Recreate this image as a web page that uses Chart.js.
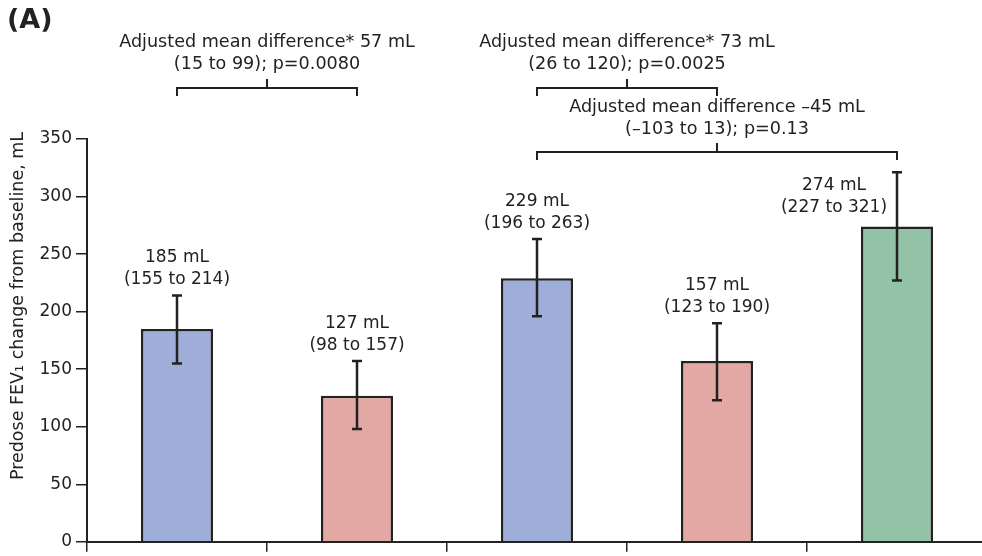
<!DOCTYPE html>
<html>
<head>
<meta charset="utf-8">
<script src="https://cdn.jsdelivr.net/npm/chart.js@4/dist/chart.umd.min.js"></script>
<style>
  html, body { margin: 0; padding: 0; background: #fff; overflow: hidden; }
  #wrap { position: relative; width: 990px; height: 556px; }
</style>
</head>
<body>
<div id="wrap"><canvas id="chart" width="990" height="556"></canvas></div>
<script>
// treatment groups (no printed axis labels in the figure)
const groups     = ['Group 1', 'Group 2', 'Group 3', 'Group 4', 'Group 5'];
const meanChange = [185, 127, 229, 157, 274];
const ciLow      = [155, 98, 196, 123, 227];
const ciHigh     = [214, 157, 263, 190, 321];
const yTicks     = [0, 50, 100, 150, 200, 250, 300, 350];

// pairwise comparisons drawn as brackets above the bars
const compFrom  = [0, 2, 2];
const compTo    = [1, 3, 4];
const compLine1 = ['Adjusted mean difference* 57 mL', 'Adjusted mean difference* 73 mL', 'Adjusted mean difference \u201345 mL'];
const compLine2 = ['(15 to 99); p=0.0080', '(26 to 120); p=0.0025', '(\u2013103 to 13); p=0.13'];

const FONT = '"DejaVu Sans", "Liberation Sans", Arial, sans-serif';
const INK = '#222';
const barFill = ['#9eaed8', '#e3a8a3', '#9eaed8', '#e3a8a3', '#93c2a6'];

const bracketY = [88, 88, 152];      // px, bracket bar height
const labelShift = { 4: { dx: -63, dy: 51 } }; // last label sits left of its error bar

const Annotate = {
  id: 'annotate',
  afterDatasetsDraw(chart) {
    const { ctx, scales: { y } } = chart;
    const meta = chart.getDatasetMeta(0);
    ctx.save();
    ctx.strokeStyle = INK;
    ctx.fillStyle = INK;

    // error bars
    ctx.lineWidth = 2.5;
    meta.data.forEach((bar, i) => {
      const cx = bar.x, top = y.getPixelForValue(ciHigh[i]), bot = y.getPixelForValue(ciLow[i]);
      ctx.beginPath();
      ctx.moveTo(cx, top); ctx.lineTo(cx, bot);
      ctx.moveTo(cx - 5, top); ctx.lineTo(cx + 5, top);
      ctx.moveTo(cx - 5, bot); ctx.lineTo(cx + 5, bot);
      ctx.stroke();
    });

    // value labels
    ctx.font = `17px ${FONT}`;
    ctx.textAlign = 'center';
    ctx.textBaseline = 'middle';
    meta.data.forEach((bar, i) => {
      const s = labelShift[i] || { dx: 0, dy: 0 };
      const top = y.getPixelForValue(ciHigh[i]);
      const lx = bar.x + s.dx, ly = top - 16 + s.dy;
      ctx.fillText(`${meanChange[i]} mL`, lx, ly - 22);
      ctx.fillText(`(${ciLow[i]} to ${ciHigh[i]})`, lx, ly);
    });

    // comparison brackets
    ctx.lineWidth = 2;
    ctx.font = `17.6px ${FONT}`;
    compFrom.forEach((a, k) => {
      const x1 = meta.data[a].x, x2 = meta.data[compTo[k]].x, by = bracketY[k];
      const mid = (x1 + x2) / 2;
      ctx.beginPath();
      ctx.moveTo(x1, by + 8); ctx.lineTo(x1, by); ctx.lineTo(x2, by); ctx.lineTo(x2, by + 8);
      ctx.moveTo(mid, by); ctx.lineTo(mid, by - 9);
      ctx.stroke();
      const gap = k === 2 ? 0 : 1;
      ctx.fillText(compLine1[k], mid, by - 45 - gap);
      ctx.fillText(compLine2[k], mid, by - 23 - gap);
    });

    // y axis title
    ctx.save();
    ctx.translate(18, 306);
    ctx.rotate(-Math.PI / 2);
    ctx.font = `17.5px ${FONT}`;
    ctx.fillText('Predose FEV\u2081 change from baseline, mL', 0, 0);
    ctx.restore();

    // panel label
    ctx.font = `bold 27px ${FONT}`;
    ctx.textAlign = 'left';
    ctx.fillText('(A)', 7, 21);
    ctx.restore();
  }
};

new Chart(document.getElementById('chart'), {
  type: 'bar',
  data: {
    labels: groups,
    datasets: [{
      data: meanChange,
      backgroundColor: barFill,
      borderColor: INK,
      borderWidth: 2.5,
      barPercentage: 0.4,
      categoryPercentage: 1
    }]
  },
  options: {
    responsive: false,
    animation: false,
    devicePixelRatio: 1,
    layout: { padding: { top: 139, right: 3, bottom: 3, left: 0 } },
    plugins: { legend: { display: false }, tooltip: { enabled: false } },
    scales: {
      x: {
        ticks: { display: false },
        grid: { offset: true, drawOnChartArea: false, tickLength: 10, color: INK, lineWidth: 1.5 },
        border: { color: INK, width: 2 }
      },
      y: {
        min: 0, max: 350,
        afterBuildTicks: s => { s.ticks = yTicks.map(v => ({ value: v })); },
        afterFit: s => { s.width = 87; },
        ticks: { color: INK, font: { family: FONT, size: 17 }, padding: 4 },
        grid: { drawOnChartArea: false, tickLength: 11, color: INK, lineWidth: 1.5 },
        border: { color: INK, width: 2 }
      }
    }
  },
  plugins: [Annotate]
});
</script>
</body>
</html>
